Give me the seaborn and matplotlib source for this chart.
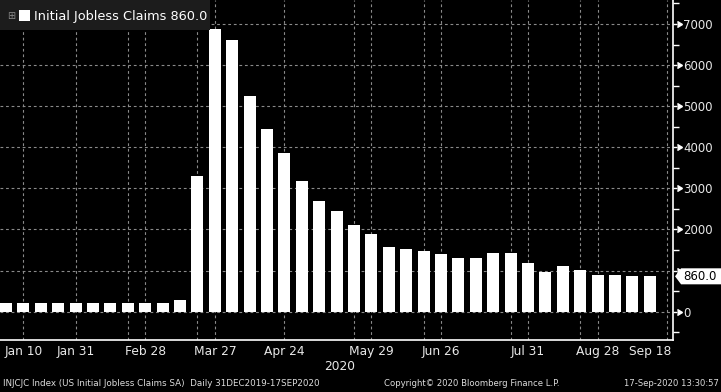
import pandas as pd
import numpy as np
import matplotlib.pyplot as plt
import seaborn as sns
from matplotlib.patches import Rectangle, Polygon
from matplotlib.transforms import blended_transform_factory
import matplotlib.markers as mmarkers

# Bloomberg-ish dark theme
sns.set_theme(style="dark", rc={"axes.facecolor": "black", "figure.facecolor": "black"})
plt.rcParams['font.family'] = ['DejaVu Sans']

# weekly initial jobless claims (thousands), Fridays from Jan 3 2020
weeks = pd.date_range("2020-01-03", periods=38, freq="7D")
claims = [222, 214, 217, 216, 202, 205, 215, 219, 216, 211, 282,
          3307, 6870, 6620, 5240, 4440, 3870, 3180, 2690, 2450, 2120,
          1900, 1570, 1530, 1480, 1410, 1310, 1310, 1430, 1430, 1190,
          970, 1100, 1010, 880, 880, 868, 860]

label_dates = ["2020-01-10", "2020-01-31", "2020-02-28", "2020-03-27", "2020-04-24",
               "2020-05-29", "2020-06-26", "2020-07-31", "2020-08-28", "2020-09-18"]
label_text = ["Jan 10", "Jan 31", "Feb 28", "Mar 27", "Apr 24",
              "May 29", "Jun 26", "Jul 31", "Aug 28", "Sep 18"]
tick_dates = ["2020-01-03", "2020-01-10", "2020-01-17", "2020-01-31", "2020-02-07",
              "2020-02-21", "2020-02-28", "2020-03-06", "2020-03-20", "2020-03-27",
              "2020-04-03", "2020-04-10", "2020-04-24", "2020-05-08", "2020-05-22",
              "2020-05-29", "2020-06-19", "2020-06-26", "2020-07-10", "2020-07-24",
              "2020-07-31", "2020-08-07", "2020-08-21", "2020-08-28", "2020-09-11",
              "2020-09-25"]
grid_dates = ["2020-01-10", "2020-01-31", "2020-02-21", "2020-02-28", "2020-03-20",
              "2020-03-27", "2020-04-24", "2020-05-22", "2020-05-29", "2020-06-19",
              "2020-06-26", "2020-07-24", "2020-07-31", "2020-08-21", "2020-08-28",
              "2020-09-25"]
y_ticks = [0, 1000, 2000, 3000, 4000, 5000, 6000, 7000]
# the 1000 label sits behind the last-value tag on the terminal
y_labels = ["0", "", "2000", "3000", "4000", "5000", "6000", "7000"]


def to_pos(d):
    return (pd.Timestamp(d) - weeks[0]).days / 7


df = pd.DataFrame({"week": np.arange(len(weeks)), "claims": claims})

fig = plt.figure(figsize=(7.21, 3.92), dpi=100)
ax = fig.add_axes([0, 52 / 392, 673 / 721, 340 / 392])

sns.barplot(data=df, x="week", y="claims", color="white", saturation=1,
            width=0.69, linewidth=0, ax=ax, zorder=2)

ax.set_xlim(-0.345, 38.33)
ax.set_ylim(-690, 7585)
ax.set_xlabel("")
ax.set_ylabel("")

# grid
grid_kw = dict(color="#8a8a8a", linestyle=(0, (2.5, 2.5)), linewidth=0.8, zorder=0.5)
for d in grid_dates:
    ax.axvline(to_pos(d), **grid_kw)
for v in y_ticks:
    ax.axhline(v, **grid_kw)
ax.grid(False)

# spines
for s in ["top", "left"]:
    ax.spines[s].set_visible(False)
for s in ["bottom", "right"]:
    ax.spines[s].set_visible(True)
    ax.spines[s].set_color("white")
    ax.spines[s].set_linewidth(1.2)

# x axis
ax.xaxis.remove_overlapping_locs = False
ax.set_xticks([to_pos(d) for d in tick_dates], labels=[""] * len(tick_dates))
ax.set_xticks([to_pos(d) for d in label_dates], labels=label_text, minor=True)
ax.tick_params(axis="x", which="major", colors="white", length=3, width=1, direction="out")
ax.tick_params(axis="x", which="minor", length=0, pad=3.5, labelsize=8.8, labelcolor="#e8e8e8")

# y axis on the right
ax.yaxis.tick_right()
ax.set_yticks(y_ticks, labels=y_labels)
ax.set_yticks(np.arange(-500, 8000, 1000), minor=True)
ax.tick_params(axis="y", which="major", colors="white", length=3, width=1, pad=4.2,
               labelsize=8.5, labelcolor="#e8e8e8")
ax.tick_params(axis="y", which="minor", colors="white", length=4.3, width=1)
tr = blended_transform_factory(ax.transAxes, ax.transData)
ax.plot([1.0055] * len(y_ticks), y_ticks, ls="none", marker=mmarkers.CARETRIGHTBASE,
        ms=4.5, color="white", transform=tr, clip_on=False)

# last value tag
last = claims[-1]
ax.add_patch(Polygon([(1.003, last), (1.012, last + 195), (1.075, last + 195),
                      (1.075, last - 195), (1.012, last - 195)],
                     closed=True, fc="white", ec="none", transform=tr, clip_on=False, zorder=5))
ax.text(1.0145, last, f"{last:.1f}", transform=tr, color="black", va="center", ha="left",
        fontsize=8.5, zorder=6)

# legend box
fig.patches.append(Rectangle((0, 1 - 30 / 392), 210 / 721, 30 / 392,
                             transform=fig.transFigure, fc="#1c1c1c", ec="none", zorder=3))
fig.patches.append(Rectangle((19 / 721, 1 - 21 / 392), 11 / 721, 11 / 392,
                             transform=fig.transFigure, fc="white", ec="none", zorder=4))
fig.text(11.5 / 721, 1 - 16 / 392, "\u229e", color="#8a8a8a", fontsize=7,
         ha="center", va="center", zorder=4)
fig.text(34 / 721, 1 - 16.5 / 392, f"Initial Jobless Claims {last:.1f}", color="white",
         fontsize=9.3, ha="left", va="center", zorder=4)

# year and footer
fig.text(340 / 721, 1 - 366 / 392, "2020", color="#e8e8e8", fontsize=8.8, ha="center", va="center")
fig.text(3 / 721, 1 - 383 / 392,
         "INJCJC Index (US Initial Jobless Claims SA)  Daily 31DEC2019-17SEP2020",
         color="#dcdcdc", fontsize=6.3, ha="left", va="center")
fig.text(472 / 721, 1 - 383 / 392, "Copyright\u00a9 2020 Bloomberg Finance L.P.",
         color="#dcdcdc", fontsize=6.1, ha="center", va="center")
fig.text(719 / 721, 1 - 383 / 392, "17-Sep-2020 13:30:57",
         color="#dcdcdc", fontsize=6.1, ha="right", va="center")

fig.savefig("out.png", dpi=100, facecolor="black")
